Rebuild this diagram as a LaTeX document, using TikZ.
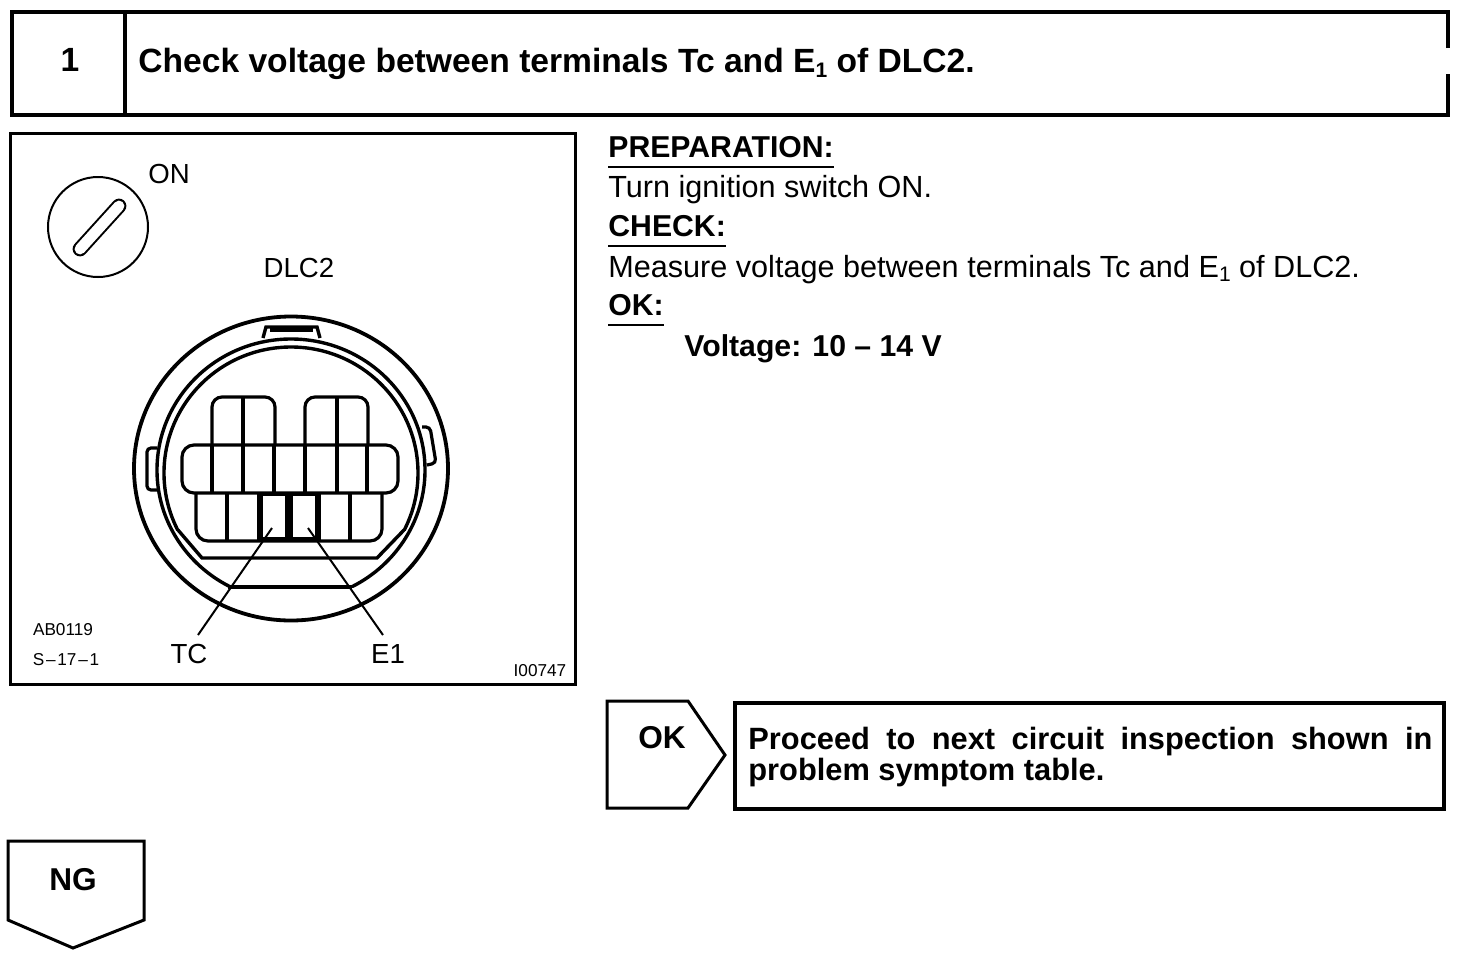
\documentclass[tikz,border=0pt]{standalone}
\usepackage{fontspec}
\setmainfont{Liberation Sans}
\newcommand{\subone}{\raisebox{-0.3ex}{\fontsize{10.5}{10.5}\selectfont 1}}
\tikzset{
  frame/.style={line width=1.7pt},
  ringline/.style={line width=1.9pt},
  pinline/.style={line width=1.6pt},
  thinline/.style={line width=1pt},
  title/.style={inner sep=0pt,anchor=base west,font=\fontsize{16.8}{18}\selectfont\bfseries},
  body/.style={inner sep=0pt,anchor=base west,font=\fontsize{15.3}{17}\selectfont},
  heading/.style={inner sep=0pt,anchor=base west,font=\fontsize{15.1}{17}\selectfont\bfseries},
  callout/.style={inner sep=0pt,font=\fontsize{13.8}{16}\selectfont},
  tinytext/.style={inner sep=0pt,font=\fontsize{8.6}{10}\selectfont},
}
\begin{document}
\begin{tikzpicture}[x=0.5pt,y=-0.5pt]
\useasboundingbox (0,0) rectangle (1472,954);
%header
\draw[frame] (1448,48)--(1448,12)--(12,12)--(12,115)--(1448,115)--(1448,74);
\draw[frame] (125,12)--(125,115);
\node[title,anchor=center] (stepno) at (70,60) {1};
\node[title] (steptitle) at (138,72) {Check voltage between terminals Tc and E\subone{} of DLC2.};
%picture box
\draw[line width=1.5pt] (10,133) rectangle (575,684);
%key
\draw[thinline] (98,227) circle (50);
\draw[line width=1pt,double,double distance=5.4pt,line cap=round] (80,249)--(119,206);
\node[callout] (onlabel) at (169,174) {ON};
\node[callout] (dlclabel) at (299,268) {DLC2};
%connector rings
\draw[ringline] (291,468.5) ellipse (157 and 152);
\begin{scope}
\clip (100,300) rectangle (480,587);
\draw[frame] (291,470) ellipse (134 and 131);
\end{scope}
\draw[frame] (228,587)--(352,587);
\begin{scope}
\clip (100,300) rectangle (480,530);
\draw[frame] (291,473) ellipse (127 and 126);
\end{scope}
\draw[frame] (178,530)--(202,558)--(377,558)--(404,530);
%tabs
\draw[frame] (263,338)--(266,327)--(317,327)--(320,338);
\draw[line width=2.4pt] (270,330)--(313,330);
\draw[pinline,rounded corners=2pt] (157,448)--(147,448)--(147,490)--(157,490);
\draw[pinline,rounded corners=2pt] (422,427)--(430,427)--(436,463)--(427,465);
%terminals
\draw[pinline,rounded corners=5pt] (212,445)--(212,397)--(275,397)--(275,445);
\draw[pinline,rounded corners=5pt] (305,445)--(305,397)--(368,397)--(368,445);
\draw[pinline,rounded corners=6pt] (182,445) rectangle (398,493);
\draw[pinline,rounded corners=6pt] (196,493)--(196,541)--(382,541)--(382,493);
\foreach \px in {212,274,305,367} \draw[pinline] (\px,445)--(\px,493);
\foreach \px in {243,337} \draw[pinline] (\px,397)--(\px,493);
\foreach \px in {227,350} \draw[pinline] (\px,493)--(\px,541);
\draw[line width=3.2pt] (260,493)--(260,540);
\draw[line width=3.8pt] (289,493)--(289,540);
\draw[line width=3.2pt] (318,493)--(318,540);
\draw[line width=2pt] (260,494)--(318,494);
\draw[line width=2pt] (260,539)--(318,539);
%leaders
\coordinate (tcpin) at (272,528);
\coordinate (eonepin) at (308,528);
\coordinate (tcfoot) at (198,635);
\coordinate (eonefoot) at (383,635);
\node[callout] (tclabel) at (189,654) {TC};
\node[callout] (eonelabel) at (388,654) {E1};
\draw[thinline] (tcpin)--(tcfoot);
\draw[thinline] (eonepin)--(eonefoot);
\node[tinytext] (abcode) at (63,630) {AB0119};
\node[tinytext] (scode) at (66,660) {S\kern0.9pt--\kern0.9pt17\kern0.9pt--\kern0.9pt1};
\node[tinytext] (icode) at (540,671) {I00747};
%text column
\node[heading] (prep) at (608,157) {PREPARATION:};
\node[body] (turn) at (608,197) {Turn ignition switch ON.};
\node[heading] (check) at (608,236) {CHECK:};
\node[body] (measure) at (608,277) {Measure voltage between terminals Tc and E\subone{} of DLC2.};
\node[heading] (oklabel) at (608,315) {OK:};
\node[heading] (volt) at (684,356) {Voltage: 10 -- 14 V};
\foreach \hd in {prep,check,oklabel}
  \draw[thinline] ([yshift=-5pt]\hd.base west)--([yshift=-5pt]\hd.base east);
%OK branch
\draw[line width=1.5pt] (607,701)--(688,701)--(725,755)--(688,808)--(607,808)--cycle;
\node[heading,anchor=center,font=\fontsize{15.8}{17}\selectfont\bfseries] (okmark) at (662,738) {OK};
\draw[frame] (735,703) rectangle (1444,809);
\node[heading,anchor=north west,text width=342pt,align=justify,font=\fontsize{15.4}{15.2}\selectfont\bfseries] (okbox) at (748,727)
  {Proceed to next circuit inspection shown in problem symptom table.};
%NG branch
\draw[line width=1.5pt] (8,841)--(144,841)--(144,920)--(73,948)--(8,920)--cycle;
\node[heading,anchor=center,font=\fontsize{15.8}{17}\selectfont\bfseries] (ngmark) at (73,880) {NG};
\end{tikzpicture}
\end{document}
